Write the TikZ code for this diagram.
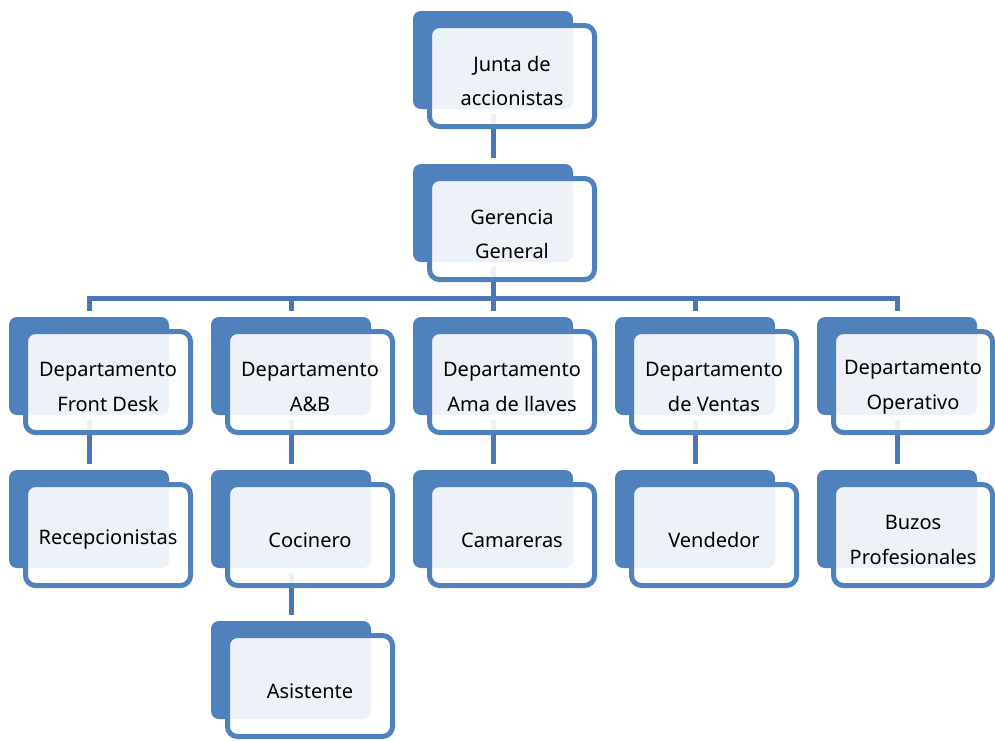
\documentclass[tikz,border=0pt]{standalone}
\usepackage{fontspec}
\setmainfont{Noto Sans}
\definecolor{boxblue}{RGB}{79,129,189}
\definecolor{lineblue}{RGB}{72,119,180}
\tikzset{
  x=1pt, y=-1pt,
  backbox/.style={rectangle, fill=boxblue, draw=none, rounded corners=8pt,
    minimum width=160pt, minimum height=98pt, inner sep=0pt},
  frontbox/.style={rectangle, draw=boxblue, line width=5pt, fill=white, fill opacity=0.9,
    rounded corners=10pt, minimum width=165pt, minimum height=101pt, inner sep=0pt},
  boxtext/.style={align=center, inner sep=0pt, font=\fontsize{20}{34.5}\selectfont},
  conn/.style={draw=lineblue, line width=5pt, line join=miter}
}
% \orgbox{name}{bx}{by}
\newcommand{\orgbox}[3]{%
  \node[backbox] (#1B) at (#2+80, #3+49) {};
}
% \orgfront[width]{name}{cx}{by}{text}
\newcommand{\orgfront}[5][165]{%
  \node[frontbox, minimum width=#1pt] (#2) at (#3, #4+65) {};
  \node[boxtext] (#2T) at (#3, #4+70) {#5};
}
\begin{document}
\begin{tikzpicture}
\fill[white] (0,0) rectangle (995,740);
\useasboundingbox (0,0) rectangle (995,740);
% back boxes
\orgbox{j}{413}{11}
\orgbox{g}{413}{164}
\orgbox{d1}{9}{317}
\orgbox{d2}{211}{317}
\orgbox{d3}{413}{317}
\orgbox{d4}{615}{317}
\orgbox{d5}{817}{317}
\orgbox{e1}{9}{470}
\orgbox{e2}{211}{470}
\orgbox{e3}{413}{470}
\orgbox{e4}{615}{470}
\orgbox{e5}{817}{470}
\orgbox{f2}{211}{621}
% connectors
\coordinate (bus) at (0,298.5);
\draw[conn] ([yshift=-5pt]jB.south) -- ([yshift=6pt]gB.north);
\draw[conn] ([yshift=-5pt]gB.south) -- (gB.south |- bus);
\draw[conn] ([yshift=6pt]d1B.north) -- (d1B.north |- bus) -- (d5B.north |- bus) -- ([yshift=6pt]d5B.north);
\draw[conn] (d2B.north |- bus) -- ([yshift=6pt]d2B.north);
\draw[conn] (d3B.north |- bus) -- ([yshift=6pt]d3B.north);
\draw[conn] (d4B.north |- bus) -- ([yshift=6pt]d4B.north);
\draw[conn] ([yshift=-5pt]d1B.south) -- ([yshift=6pt]e1B.north);
\draw[conn] ([yshift=-5pt]d2B.south) -- ([yshift=6pt]e2B.north);
\draw[conn] ([yshift=-5pt]d3B.south) -- ([yshift=6pt]e3B.north);
\draw[conn] ([yshift=-5pt]d4B.south) -- ([yshift=6pt]e4B.north);
\draw[conn] ([yshift=-5pt]d5B.south) -- ([yshift=6pt]e5B.north);
\draw[conn] ([yshift=-5pt]e2B.south) -- ([yshift=6pt]f2B.north);
% front boxes
\orgfront{j}{512}{11}{Junta de\\accionistas}
\orgfront{g}{512}{164}{Gerencia\\General}
\orgfront{d1}{108}{317}{Departamento\\Front Desk}
\orgfront{d2}{310}{317}{Departamento\\A\&B}
\orgfront{d3}{512}{317}{Departamento\\Ama de llaves}
\orgfront{d4}{714}{317}{Departamento\\de Ventas}
\orgfront[159]{d5}{913}{317}{Departamento\\Operativo}
\orgfront{e1}{108}{470}{Recepcionistas}
\orgfront{e2}{310}{470}{Cocinero}
\orgfront{e3}{512}{470}{Camareras}
\orgfront{e4}{714}{470}{Vendedor}
\orgfront[159]{e5}{913}{470}{Buzos\\Profesionales}
\orgfront{f2}{310}{621}{Asistente}
\end{tikzpicture}
\end{document}
